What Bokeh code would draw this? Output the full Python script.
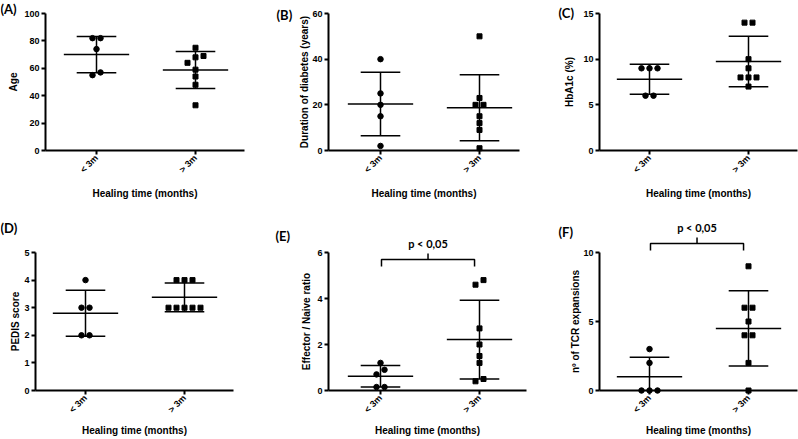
import math
import numpy as np
from bokeh.plotting import figure
from bokeh.layouts import column, row
from bokeh.models import FixedTicker, Label, ColumnDataSource
from bokeh.embed import file_html
from bokeh.resources import INLINE

# ---------------- data ----------------
groups = ["< 3m", "> 3m"]
x_title = "Healing time (months)"
sig_text = "p < 0,05"

age_lt = [82, 82, 74, 57, 55]
age_gt = [75, 69, 68, 64, 59, 54, 48, 33]
dur_lt = [40, 25, 20, 15, 2]
dur_gt = [50, 23, 20, 20, 15, 12, 9, 1]
hba_lt = [9, 9, 9, 6, 6]
hba_gt = [14, 14, 10, 9, 8, 8, 8, 7]
pedis_lt = [4, 3, 3, 2, 2]
pedis_gt = [4, 4, 4, 3, 3, 3, 3, 3]
ratio_lt = [1.2, 0.9, 0.7, 0.15, 0.15]
ratio_gt = [4.8, 4.6, 2.7, 2.0, 1.5, 1.2, 0.5, 0.4]
tcr_lt = [3, 2, 0, 0, 0]
tcr_gt = [9, 6, 6, 5, 4, 4, 2, 0]

letters = ["(A)", "(B)", "(C)", "(D)", "(E)", "(F)"]
y_titles = ["Age", "Duration of diabetes (years)", "HbA1c (%)",
            "PEDIS score", "Effector / Naive ratio", "n\u00ba of TCR expansions"]
y_max = [100, 60, 15, 5, 6, 10]
y_step = [20, 20, 5, 1, 2, 5]
sig_level = [None, None, None, None, 5.7, 10.65]
series_lt = [age_lt, dur_lt, hba_lt, pedis_lt, ratio_lt, tcr_lt]
series_gt = [age_gt, dur_gt, hba_gt, pedis_gt, ratio_gt, tcr_gt]

# ---------------- layout / style constants (pixels) ----------------
FONT = "Liberation Sans"
FONT2 = "Lato"
COL_W = [266, 266, 266]
ROW_H = [220, 219]
ROW_GEOM = [dict(T=13, Z=150), dict(T=32, Z=170)]   # axis top / zero line
AXIS_LEFT = [45, 62, 67, 35, 62, 67]                # y-axis position
AXIS_RIGHT = [244, 253, 265, 233, 260, 265]         # x-axis end
CAT0 = [96, 114, 117, 85, 114, 117]                 # first category position
PX_PER_X = 99.0
LABEL_POS = [(0, 8), (10, 14), (26, 12), (0, 7), (9, 15), (26, 11)]
YTITLE_OFF = [32, 24, 30, 20, 22, 24]
XTITLE_DY = [43, 43, 43, 40, 40, 40]
SIG_DY = [0, 0, 0, 0, 9, 10]
MEAN_HALF = 0.33
CAP_HALF = 0.2


def spread(vals, ppu, gap=6.0, step=8.0):
    vals = np.asarray(vals, float)
    order = np.argsort(vals, kind="stable")
    offs = np.zeros(len(vals))
    clusters, cur = [], [order[0]]
    for a, b in zip(order[:-1], order[1:]):
        if (vals[b] - vals[a]) * ppu < gap:
            cur.append(b)
        else:
            clusters.append(cur)
            cur = [b]
    clusters.append(cur)
    for c in clusters:
        n = len(c)
        for k, idx in enumerate(c):
            offs[idx] = (k - (n - 1) / 2) * step
    return offs / PX_PER_X


def make_panel(i):
    r, c = divmod(i, 3)
    g = ROW_GEOM[r]
    H = ROW_H[r]
    W = COL_W[c]
    top = y_max[i]
    ppu = (g["Z"] - g["T"]) / top
    x_lo = -CAT0[i] / PX_PER_X
    x_hi = x_lo + W / PX_PER_X
    y_hi = g["Z"] / ppu
    y_lo = -(H - g["Z"]) / ppu
    x_axis0 = x_lo + AXIS_LEFT[i] / PX_PER_X
    x_axis1 = x_lo + AXIS_RIGHT[i] / PX_PER_X

    p = figure(width=W, height=H, x_range=(x_lo, x_hi), y_range=(y_lo, y_hi),
               min_border=0, min_border_left=0, min_border_right=0,
               min_border_top=0, min_border_bottom=0,
               output_backend="svg", toolbar_location=None)
    p.outline_line_color = None
    p.grid.visible = False
    p.background_fill_color = "white"
    p.border_fill_color = "white"

    for ax in (p.xaxis[0], p.yaxis[0]):
        ax.axis_line_width = 2
        ax.axis_line_color = "black"
        ax.major_tick_line_width = 2
        ax.major_tick_line_color = "black"
        ax.major_tick_out = 4
        ax.major_tick_in = 0
        ax.minor_tick_out = 0
        ax.minor_tick_in = 0
        ax.major_label_text_font = FONT
        ax.major_label_text_font_style = "bold"
        ax.major_label_text_font_size = "9px"
        ax.major_label_text_color = "black"
        ax.major_label_standoff = 2

    xa = p.xaxis[0]
    xa.ticker = FixedTicker(ticks=[0, 1])
    xa.major_label_overrides = {0: groups[0], 1: groups[1]}
    xa.major_label_orientation = math.pi / 4
    xa.fixed_location = 0
    xa.bounds = (x_axis0, x_axis1)

    ya = p.yaxis[0]
    ya.ticker = FixedTicker(ticks=list(np.arange(0, top + 1e-9, y_step[i])))
    ya.bounds = (0, top)
    ya.fixed_location = x_axis0

    # error bars (mean +/- SD)
    sx0, sx1, sy0, sy1 = [], [], [], []
    for gi, vals in enumerate([series_lt[i], series_gt[i]]):
        m = float(np.mean(vals))
        s = float(np.std(vals, ddof=1))
        hi = m + s
        lo = m - s
        sx0 += [gi - MEAN_HALF, gi - CAP_HALF, gi]
        sx1 += [gi + MEAN_HALF, gi + CAP_HALF, gi]
        sy0 += [m, hi, max(lo, 0)]
        sy1 += [m, hi, hi]
        if lo >= 0:
            sx0.append(gi - CAP_HALF)
            sx1.append(gi + CAP_HALF)
            sy0.append(lo)
            sy1.append(lo)
    p.segment(x0="x0", y0="y0", x1="x1", y1="y1",
              source=ColumnDataSource(dict(x0=sx0, x1=sx1, y0=sy0, y1=sy1)),
              line_color="black", line_width=1.5)

    # points
    lt = series_lt[i]
    gt = series_gt[i]
    p.scatter(x=list(0 + spread(lt, ppu)), y=lt, marker="circle", size=5.5,
              fill_color="black", line_color="black")
    p.scatter(x=list(1 + spread(gt, ppu)), y=gt, marker="square", size=5,
              fill_color="black", line_color="black")

    # significance bracket
    if sig_level[i] is not None:
        L = sig_level[i]
        drop = 7 / ppu
        tick = 6 / ppu
        xa0, xa1 = 0.01, 0.95
        mid = (xa0 + xa1) / 2
        p.line(x=[xa0, xa0, xa1, xa1], y=[L - drop, L, L, L - drop],
               line_color="black", line_width=1.5)
        p.segment(x0=[mid], y0=[L], x1=[mid], y1=[L + tick],
                  line_color="black", line_width=1.5)
        p.add_layout(Label(x=mid, y=L, y_offset=SIG_DY[i], text=sig_text,
                           text_align="center", text_baseline="bottom",
                           text_font=FONT2, text_font_style="bold",
                           text_font_size="11px", text_color="black"))

    # panel letter
    dx, cy = LABEL_POS[i]
    p.add_layout(Label(x=x_lo, y=y_hi, x_offset=dx, y_offset=-cy,
                       text=letters[i], text_align="left", text_baseline="middle",
                       text_font=FONT2, text_font_style="bold",
                       text_font_size="13px", text_color="black"))

    # y-axis title
    p.add_layout(Label(x=x_axis0, y=top / 2, x_offset=-YTITLE_OFF[i],
                       angle=math.pi / 2, text=y_titles[i],
                       text_align="center", text_baseline="middle",
                       text_font=FONT, text_font_style="bold",
                       text_font_size="10px", text_color="black"))

    # x-axis title
    p.add_layout(Label(x=(x_axis0 + x_axis1) / 2, y=0, y_offset=-XTITLE_DY[i],
                       text=x_title, text_align="center", text_baseline="middle",
                       text_font=FONT, text_font_style="bold",
                       text_font_size="10px", text_color="black"))
    return p


panels = [make_panel(i) for i in range(6)]
layout = column(row(*panels[:3]), row(*panels[3:]))

open("out.html", "w").write(file_html(layout, INLINE))
